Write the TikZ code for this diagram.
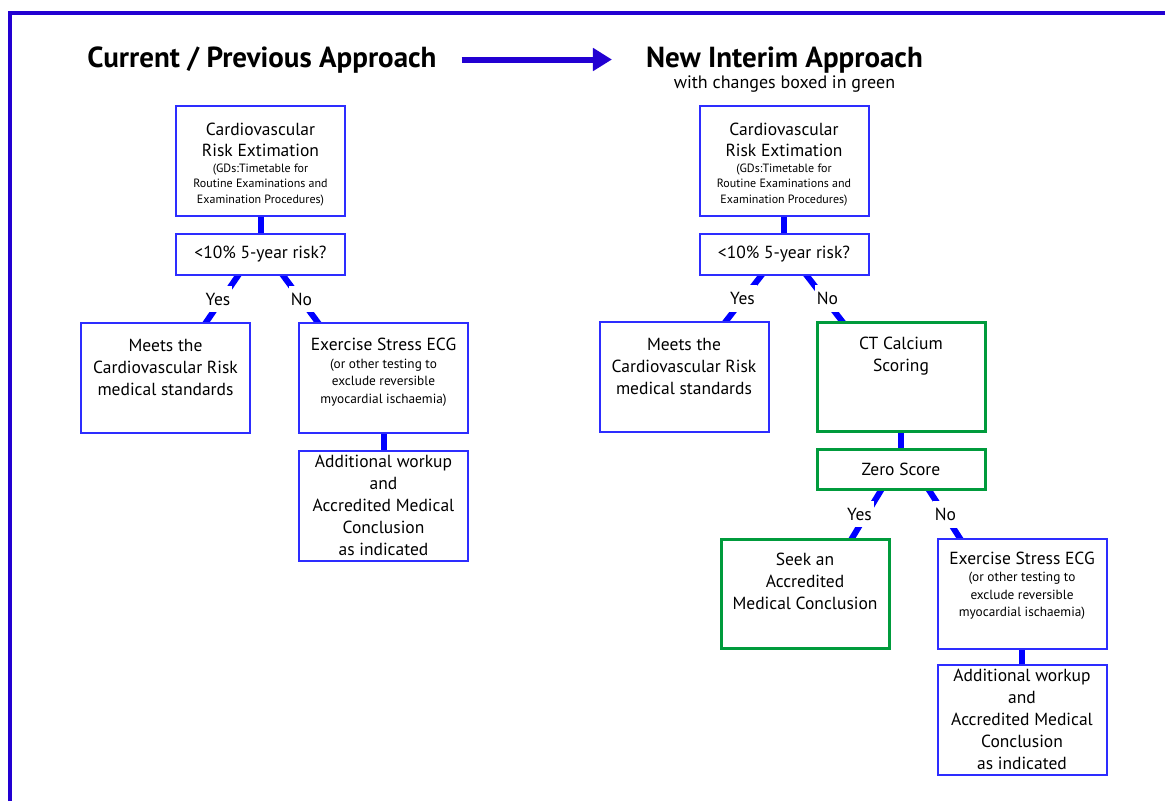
\documentclass[tikz,border=0pt]{standalone}
\usepackage{fontspec}
\setmainfont{PT Sans}
\usetikzlibrary{arrows.meta,calc,backgrounds}
\definecolor{frameblue}{RGB}{34,0,210}
\definecolor{boxblue}{RGB}{45,45,255}
\definecolor{connblue}{RGB}{0,0,255}
\definecolor{boxgreen}{RGB}{0,155,60}
\newcommand\smalltxt{\fontsize{13.3}{17.5}\selectfont}
\newcommand\tinytxt{\fontsize{12}{15.5}\selectfont}
\begin{document}
\begin{tikzpicture}[x=1pt,y=-1pt,
  box/.style={draw=boxblue,line width=2pt,minimum width=169pt,minimum height=110pt,inner sep=0pt,fill=white},
  qbox/.style={box,minimum height=41pt},
  gbox/.style={box,draw=boxgreen,line width=3pt,minimum width=168pt,minimum height=109pt},
  gqbox/.style={gbox,minimum height=40pt},
  conn/.style={draw=connblue,line width=6pt},
  lab/.style={fill=white,inner xsep=2pt,inner ysep=7pt,font=\fontsize{17.5}{20}\selectfont},
  txt/.style={align=flush center,text width=168pt,inner sep=0pt,font=\fontsize{17.5}{22}\selectfont},
  title/.style={anchor=base,inner sep=0pt,font=\fontsize{29}{33}\selectfont\bfseries},
]
\useasboundingbox (0,0) rectangle (1165,801);
% frame
\draw[frameblue,line width=3.5pt,line join=miter] (10,801) -- (10,13) -- (1165,13);

% titles
\node[title] (t1) at (262,67.5) {Current / Previous Approach};
\node[title] (t2) at (784.5,67.5) {New Interim Approach};
\node[anchor=base,inner sep=0pt,font=\fontsize{18}{21}\selectfont] (t2sub) at (784.5,88.5) {with changes boxed in green};
\coordinate (arrowy) at (0,59.5);
\draw[frameblue,line width=6pt,-{Triangle[length=19pt,width=22pt]}]
  ($(t1.east |- arrowy)+(25,0)$) -- ($(t2.west |- arrowy)+(-34,0)$);

% ---------- left tree ----------
\node[box] (top1) at (260.5,161) {};
\node[txt] (top1t) at ($(top1.north)+(0,59.5)$) {\fontsize{17.5}{21.5}\selectfont Cardiovascular\\Risk Extimation\par{\tinytxt (GDs:Timetable for\\Routine Examinations and\\Examination Procedures)\par}};
\node[qbox] (q1) at (260.5,254.5) {};
\node[txt] (q1t) at (q1.center) {<10\% 5-year risk?};
\node[box] (meets1) at (165.5,378) {};
\node[txt] (meets1t) at ($(meets1.north)+(0,45)$) {Meets the\\Cardiovascular Risk\\medical standards};
\node[box] (ex1) at (383.5,378) {};
\node[txt] (ex1t) at ($(ex1.north)+(0,50)$) {Exercise Stress ECG\par{\smalltxt (or other testing to\\exclude reversible\\myocardial ischaemia)\par}};
\node[box] (add1) at (383.5,505.5) {};
\node[txt] (add1t) at (add1.center) {Additional workup\\and\\Accredited Medical\\Conclusion\\as indicated};

% ---------- right tree ----------
\node[box] (top2) at (784,161) {};
\node[txt] (top2t) at ($(top2.north)+(0,59.5)$) {\fontsize{17.5}{21.5}\selectfont Cardiovascular\\Risk Extimation\par{\tinytxt (GDs:Timetable for\\Routine Examinations and\\Examination Procedures)\par}};
\node[qbox] (q2) at (784,254.5) {};
\node[txt] (q2t) at (q2.center) {<10\% 5-year risk?};
\node[box] (meets2) at (684,377) {};
\node[txt] (meets2t) at ($(meets2.north)+(0,45)$) {Meets the\\Cardiovascular Risk\\medical standards};
\node[gbox] (ct) at (901,377) {};
\node[txt] (ctt) at ($(ct.north)+(0,35.5)$) {CT Calcium\\Scoring};
\node[gqbox] (zero) at (901,469.5) {};
\node[txt] (zerot) at (zero.center) {Zero Score};
\node[gbox] (seek) at (805,593.5) {};
\node[txt] (seekt) at ($(seek.north)+(0,44)$) {Seek an\\Accredited\\Medical Conclusion};
\node[box] (ex2) at (1022,593.5) {};
\node[txt] (ex2t) at ($(ex2.north)+(0,48)$) {Exercise Stress ECG\par{\smalltxt (or other testing to\\exclude reversible\\myocardial ischaemia)\par}};
\node[box] (add2) at (1022,719.5) {};
\node[txt] (add2t) at (add2.center) {Additional workup\\and\\Accredited Medical\\Conclusion\\as indicated};

% ---------- connectors ----------
\begin{scope}[on background layer]
\draw[conn] (top1.south) -- (q1.north);
\draw[conn] ($(q1.south)+(-20,-4)$) -- ($(meets1.north)+(38,4)$) node[lab,pos=0.5,xshift=-4pt] (y1) {Yes};
\draw[conn] ($(q1.south)+(20,-4)$) -- ($(ex1.north)+(-63,4)$) node[lab,pos=0.5,xshift=1pt] (n1) {No};
\draw[conn] (ex1.south) -- (add1.north);

\draw[conn] (top2.south) -- (q2.north);
\draw[conn] ($(q2.south)+(-20,-4)$) -- ($(meets2.north)+(39,4)$) node[lab,pos=0.5,xshift=-1pt] (y2) {Yes};
\draw[conn] ($(q2.south)+(20,-4)$) -- ($(ct.north)+(-56,4)$) node[lab,pos=0.5,xshift=3pt] (n2) {No};
\draw[conn] (ct.south) -- (zero.north);
\draw[conn] ($(zero.south)+(-18,-4)$) -- ($(seek.north)+(45,4)$) node[lab,pos=0.5,xshift=-7pt] (y3) {Yes};
\draw[conn] ($(zero.south)+(26,-4)$) -- ($(ex2.north)+(-60,4)$) node[lab,pos=0.5,xshift=1pt] (n3) {No};
\draw[conn] (ex2.south) -- (add2.north);
\end{scope}
\end{tikzpicture}
\end{document}
